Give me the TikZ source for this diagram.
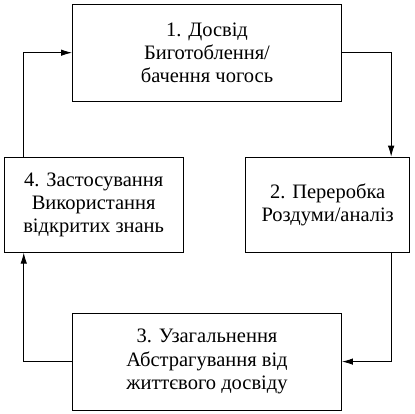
\documentclass[tikz,border=0pt]{standalone}
\usepackage{fontspec}
\setmainfont{Liberation Serif}
\newfontfamily\stagefont{Liberation Serif}
\usepackage{tikz}
\usetikzlibrary{arrows.meta,positioning}

\begin{document}
\begin{tikzpicture}[x=1pt,y=1pt,font=\stagefont\fontsize{20.5}{23.3}\selectfont,
  stage/.style={draw,line width=0.9pt,align=center,inner sep=2pt},
  flow/.style={line width=0.9pt,-{Latex[length=11pt,width=6.5pt]}}]
  \useasboundingbox (0,0) rectangle (415,414);
  \node[stage,minimum width=269pt,minimum height=97pt] (s1) at (207,361.3) {1. Досвід\\Биготоблення/\\бачення чогось};
  \node[stage,minimum width=164pt,minimum height=95pt] (s2) at (327.7,209.3) {2. Переробка\\Роздуми/аналіз};
  \node[stage,minimum width=269pt,minimum height=97pt,below=211pt of s1] (s3) {3. Узагальнення\\Абстрагування від\\життєвого досвіду};
  \node[stage,minimum width=179pt,minimum height=95pt] (s4) at (93.7,209.3) {4. Застосування\\Використання\\відкритих знань};
  \draw[flow] (s1.east) -| ([xshift=-19pt]s2.north east);
  \draw[flow] ([xshift=-19pt]s2.south east) |- (s3.east);
  \draw[flow] (s3.west) -| ([xshift=20pt]s4.south west);
  \draw[flow] ([xshift=20pt]s4.north west) |- (s1.west);
\end{tikzpicture}
\end{document}
